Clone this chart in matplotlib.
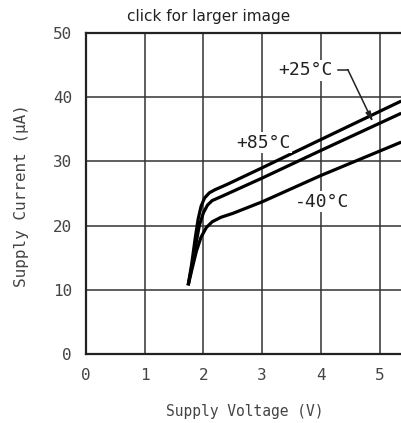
import matplotlib
matplotlib.use("Agg")
import matplotlib.pyplot as plt

# Data
v_85 = [1.74, 1.80, 1.86, 1.91, 1.96, 2.02, 2.10, 2.20, 2.40, 3.00, 4.00, 5.37]
i_85 = [10.7, 14.0, 18.0, 21.0, 23.0, 24.3, 25.1, 25.6, 26.4, 29.0, 33.4, 39.4]

v_25 = [1.74, 1.80, 1.87, 1.93, 2.00, 2.07, 2.15, 2.30, 3.00, 4.00, 5.37]
i_25 = [10.7, 13.5, 17.0, 20.0, 22.0, 23.2, 23.9, 24.5, 27.4, 31.7, 37.5]

v_m40 = [1.74, 1.80, 1.88, 1.96, 2.05, 2.15, 2.30, 2.50, 3.00, 4.00, 5.37]
i_m40 = [10.7, 13.0, 16.0, 18.2, 19.7, 20.6, 21.3, 21.9, 23.7, 27.8, 33.0]

x_ticks = [0, 1, 2, 3, 4, 5]
y_ticks = [0, 10, 20, 30, 40, 50]
labels = ["+85°C", "+25°C", "-40°C"]

W, H = 401, 423
fig = plt.figure(figsize=(W / 100, H / 100), dpi=100)
ax = fig.add_axes([86 / W, 69 / H, (W - 86) / W, 321 / H])

ax.set_xlim(0, (W - 86) / 58.7)
ax.set_ylim(0, 50)
ax.set_xticks(x_ticks)
ax.set_yticks(y_ticks)
ax.grid(True, color="#333333", linewidth=1.1)
ax.set_axisbelow(True)

for s in ["left", "bottom", "top"]:
    ax.spines[s].set_linewidth(1.6)
    ax.spines[s].set_color("#222222")
ax.spines["right"].set_visible(False)
ax.tick_params(length=0, pad=10, labelsize=11.5, labelcolor="#444444")
for lab in ax.get_xticklabels() + ax.get_yticklabels():
    lab.set_family("DejaVu Sans Mono")

for v, i in [(v_85, i_85), (v_25, i_25), (v_m40, i_m40)]:
    ax.plot(v, i, color="black", linewidth=2.3, solid_capstyle="butt", clip_on=False)

bbox = dict(facecolor="white", edgecolor="none", pad=1)
tkw = dict(family="DejaVu Sans Mono", fontsize=13, color="#222222",
           ha="center", va="center", bbox=bbox)
ax.text(3.02, 32.9, labels[0], **tkw)
ax.text(3.73, 44.2, labels[1], **tkw)
ax.text(4.02, 23.7, labels[2], **tkw)

# leader for +25°C
ax.plot([4.29, 4.46], [44.3, 44.3], color="#222222", linewidth=1.1)
ax.annotate("", xy=(4.89, 36.1), xytext=(4.46, 44.3),
            arrowprops=dict(arrowstyle="-|>,head_length=0.6,head_width=0.15",
                            color="#222222", linewidth=1.1, shrinkA=0, shrinkB=0))

fig.text(245 / W, 1 - 411 / H, "Supply Voltage (V)", family="DejaVu Sans Mono",
         fontsize=10.5, color="#444444", ha="center", va="center")
fig.text(22 / W, 1 - 196 / H, "Supply Current (µA)", family="DejaVu Sans Mono",
         fontsize=11.5, color="#444444", ha="center", va="center", rotation=90)

fig.text(209 / W, 1 - 17 / H, "click for larger image", ha="center", va="center",
         fontsize=11, color="#222222")

fig.savefig("out.png", dpi=100)
